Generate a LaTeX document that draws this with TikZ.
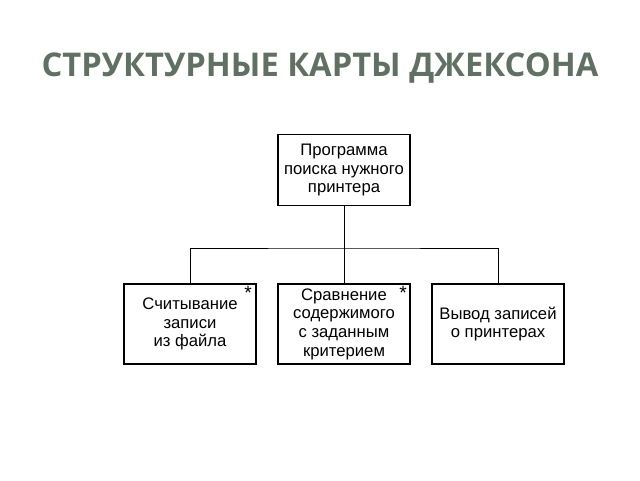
\documentclass[tikz,border=0pt]{standalone}
\usepackage{fontspec}
\setmainfont{Liberation Sans}
\newfontfamily\titlefont{Open Sans}
\tikzset{every picture/.style={line width=0.75pt}}
\tikzset{
  jbox/.style={draw, line width=1.2pt, minimum width=99pt, minimum height=60pt, align=center, inner sep=0.75pt, font=\fontsize{12.5}{14}\selectfont},
  jstar/.style={inner sep=0.75pt, font=\Large}
}
\begin{document}
\begin{tikzpicture}[x=0.75pt,y=0.75pt,yscale=-1,xscale=1]
\useasboundingbox (0,0) rectangle (640,480);

% Title
\node (title) at (320,68) {\titlefont\bfseries\fontsize{24.5}{28}\selectfont\color[RGB]{96,112,98}СТРУКТУРНЫЕ КАРТЫ ДЖЕКСОНА};

% Boxes
\node [jbox, minimum height=53pt] (prog) at (344,170) {Программа\\поиска нужного\\принтера};
\node [jbox] (read) at (190,324) {Считывание\\записи\\из файла};
\node [jbox] (cmp) at (344,324) {Сравнение\\содержимого\\с заданным\\критерием};
\node [jbox] (out) at (498,324) {Вывод записей\\о принтерах};

% Stars
\node [jstar] (s1) at (248,293) {*};
\node [jstar] (s2) at (403,293) {*};

% Connectors
\coordinate (bus) at (344,248);
\draw (prog.south) -- (bus);
\draw (read.north) |- (bus) -| (out.north);
\draw (bus) -- (cmp.north);
\end{tikzpicture}
\end{document}
